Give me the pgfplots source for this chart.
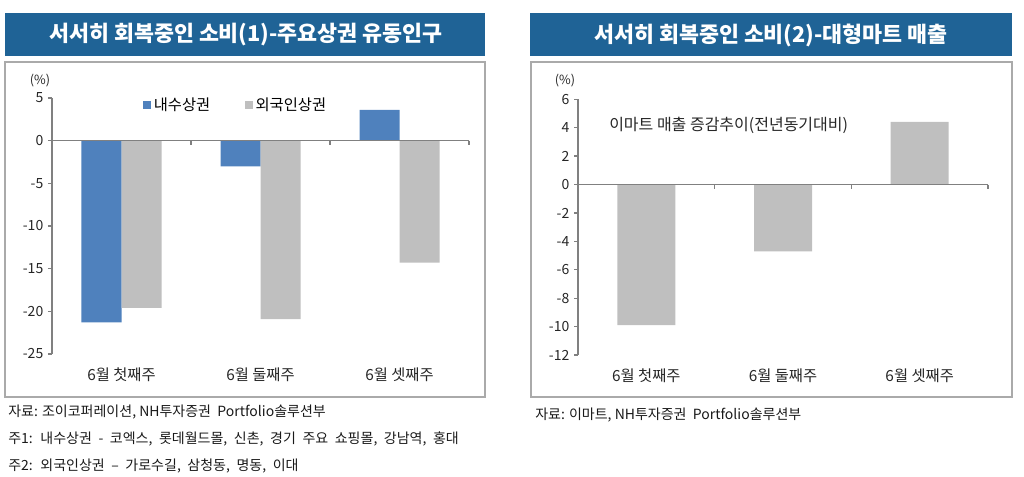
\documentclass[border=0pt]{standalone}
\usepackage{fontspec}
\setmainfont{Noto Sans CJK KR}
\usepackage{pgfplots}
\pgfplotsset{compat=1.18}

\definecolor{titleblue}{RGB}{31,99,150}
\definecolor{barblue}{RGB}{79,129,189}
\definecolor{bargray}{RGB}{191,191,191}
\definecolor{axgray}{RGB}{128,128,128}
\definecolor{framegray}{RGB}{170,170,170}

\pgfplotsset{
  panel/.style={
    scale only axis, ybar, xmin=-0.5, xmax=2.5,
    axis y line*=left, axis x line*=bottom,
    x axis line style={draw=none},
    y axis line style={axgray, line width=1.1pt},
    xtick={0,1,2},
    xticklabels={6월 첫째주,6월 둘째주,6월 셋째주},
    major x tick style={draw=none},
    ytick pos=left, tick align=outside, major tick length=3pt,
    major y tick style={axgray, line width=1pt},
    tick label style={font=\fontsize{10.5}{12}\selectfont, text=black!85},
    /pgf/number format/assume math mode=true,
    xticklabel style={yshift=-4pt, font=\fontsize{11.5}{13}\selectfont},
    clip=false,
  },
}

\begin{document}
\begin{tikzpicture}[x=0.75pt, y=-0.75pt]
\useasboundingbox (0,0) rectangle (1024,477);

% title bars and frames
\fill[titleblue] (5,13) rectangle (485,56);
\node[text=white, font=\bfseries\fontsize{16.3}{18}\selectfont] at (246,35) {서서히 회복중인 소비(1)-주요상권 유동인구};
\fill[titleblue] (530,13) rectangle (1012,56);
\node[text=white, font=\bfseries\fontsize{16.3}{18}\selectfont] at (771,35) {서서히 회복중인 소비(2)-대형마트 매출};
\draw[framegray, line width=1.1pt] (5,62) rectangle (485,397);
\draw[framegray, line width=1.1pt] (531,62) rectangle (1012,397);

\coordinate (LA) at (52,354);
\coordinate (RA) at (578,355);

% left chart
\begin{axis}[panel, at={(LA)}, anchor=south west,
  width=312.75pt, height=192pt,
  ymin=-25, ymax=5, ytick={-25,-20,...,5},
  bar width=30pt,
  legend style={at={(rel axis cs:0.218,0.973)}, anchor=west, draw=none, fill=none,
    legend columns=-1, font=\fontsize{11.5}{13}\selectfont, inner sep=0pt,
    /tikz/every even column/.append style={column sep=24pt}},
  legend image code/.code={\fill[#1] (0pt,-3pt) rectangle (6pt,3pt);},
]
\addplot[fill=barblue, draw=none, bar shift=-15pt] coordinates {(0,-21.3) (1,-3.0) (2,3.6)};
\addlegendentry{내수상권}
\addplot[fill=bargray, draw=none, bar shift=15pt] coordinates {(0,-19.6) (1,-20.9) (2,-14.3)};
\addlegendentry{외국인상권}
\draw[axgray, line width=1.1pt] (axis cs:-0.5,0) -- (axis cs:2.5,0);
\draw[axgray, line width=1pt] (axis cs:0.5,0) -- ++(0pt,-3pt);
\draw[axgray, line width=1pt] (axis cs:1.5,0) -- ++(0pt,-3pt);
\draw[axgray, line width=1pt] (axis cs:2.5,0) -- ++(0pt,-3pt);
\end{axis}

% right chart
\begin{axis}[panel, at={(RA)}, anchor=south west,
  width=307.5pt, height=191.8pt,
  ymin=-12, ymax=6, ytick={-12,-10,...,6},
  bar width=43.5pt,
]
\addplot[fill=bargray, draw=none, bar shift=0pt] coordinates {(0,-9.9) (1,-4.7) (2,4.4)};
\draw[axgray, line width=1.1pt] (axis cs:-0.5,0) -- (axis cs:2.5,0);
\draw[axgray, line width=1pt] (axis cs:0.5,0) -- ++(0pt,-3pt);
\draw[axgray, line width=1pt] (axis cs:1.5,0) -- ++(0pt,-3pt);
\draw[axgray, line width=1pt] (axis cs:2.5,0) -- ++(0pt,-3pt);
\end{axis}

% units and annotations
\node[font=\fontsize{9.5}{11}\selectfont, text=black!85] at (40,81) {(\%)};
\node[font=\fontsize{9.5}{11}\selectfont, text=black!85] at (565,81) {(\%)};
\node[anchor=west, font=\fontsize{12}{14}\selectfont, text=black!85, inner sep=0pt] at (609,125) {이마트 매출 증감추이(전년동기대비)};

% notes
\begin{scope}[every node/.style={anchor=west, inner sep=0pt, font=\fontsize{10.5}{12}\selectfont, text=black!90}]
\node at (8,412) {자료: 조이코퍼레이션, NH투자증권\ \ Portfolio솔루션부};
\node at (8,439) {\spaceskip=0.47em 주1: 내수상권 - 코엑스, 롯데월드몰, 신촌, 경기 주요 쇼핑몰, 강남역, 홍대};
\node at (8,466) {\spaceskip=0.47em 주2: 외국인상권 – 가로수길, 삼청동, 명동, 이대};
\node at (535,415) {자료: 이마트, NH투자증권\ \ Portfolio솔루션부};
\end{scope}
\end{tikzpicture}
\end{document}
